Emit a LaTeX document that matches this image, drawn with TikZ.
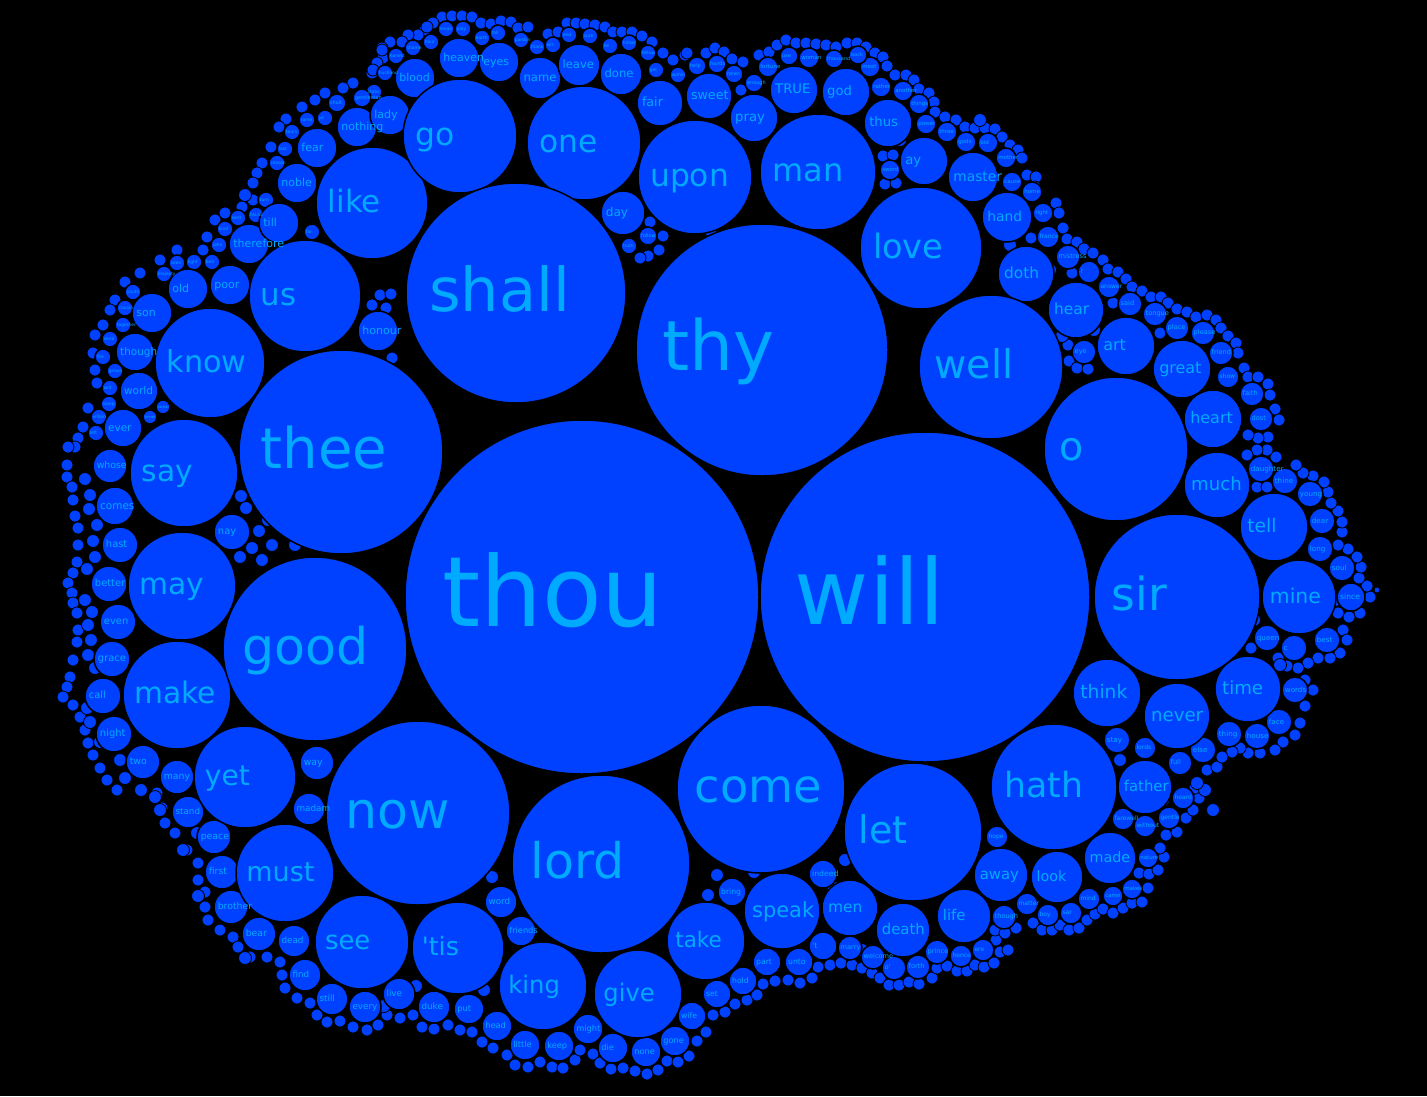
\documentclass[tikz,border=0pt]{standalone}
\usepackage{fontspec}
\newfontfamily\wf{DejaVu Sans}
\definecolor{bub}{RGB}{0,64,255}
\definecolor{wtxt}{RGB}{0,170,255}
\tikzset{
  bubble/.style={fill=bub,draw=black,line width=1.5pt},
  tinybub/.style={fill=bub,draw=black,line width=0.8pt}
}
\newcommand\bubcirc[3]{\path[bubble] (#1,#2) circle (#3);}
\newcommand\bublabel[4]{%
  \pgfmathsetmacro\mybfs{0.55*#3}%
  \node[anchor=base west,inner sep=0,text=wtxt,font=\wf\fontsize{\mybfs pt}{\mybfs pt}\selectfont] at ({#1-0.79*#3},{#2+0.165*#3}) {#4};}
\def\smalllist{%
1004/917/12/though,1027/904/11/matter,1048/915/11/boy,1071/913/11/sar,1089/899/11/mind,1113/896/10/came,1132/889/10/makes,1148/858/10/nature,997/837/11/hope,
1117/740/13/stay,1145/748/11/lords,1180/763/12/full,1203/750/13/else,1183/798/11/heard,1169/818/11/gentle,1123/819/11/farewell,1145/826/11/without,
1229/734/13/thing,1257/736/13/house,1279/722/13/face,1295/690/13/words,1267/638/13/queen,1294/648/13/c,1327/640/13/best,1351/597/14/since,1342/568/13/soul,1320/549/13/long,1322/521/13/dear,1310/494/13/young,1285/481/13/thine,1261/469/13/daughter,
1261/419/12/dost,1252/394/12/faith,1228/377/11/show,1221/353/12/friend,1203/333/12/please,1177/328/12/place,1155/314/12/tongue,1130/304/12/said,1109/287/11/answer,1084/352/12/eye,1089/272/11/i',1068/257/12/mistress,1048/237/11/france,1043/213/10/right,
1032/192/10/home,1012/182/10/cause,1006/158/10/mother,988/143/10/bid,966/142/10/gods,947/132/10/three,926/124/10/power,919/104/10/things,903/91/10/another,881/87/10/rather,890/170/10/sword,870/67/10/meet,858/55/9/back,834/59/9/thousand,809/58/10/woman,789/56/9/use,768/67/10/fortune,754/83/9/enough,734/74/9/news,717/64/9/hands,697/66/9/help,
678/75/8/within,656/70/8/get,648/53/8/fellow,629/43/8/hither,610/46/8/lie,590/36/8/sure,569/35/8/end,553/45/8/wit,537/47/8/thank,521/40/8/pardon,498/33/8/fall,482/38/8/earth,463/29/8/play,446/29/8/mean,431/42/8/hour,413/48/8/shame,396/56/8/honest,385/73/8/husband,374/92/8/state,362/98/9/gentleman,337/103/9/shalt,325/118/8/ye,307/120/8/rome,292/132/8/tears,285/149/8/lost,277/163/8/reason,266/200/8/turn,256/215/8/FALSE,238/218/8/sent,225/229/8/kind,219/245/8/john,312/232/8/far,
177/263/8/seen,194/262/8/light,212/262/8/bed,164/274/8/majesty,133/292/8/youth,125/308/8/cousin,123/325/8/together,110/339/8/send,103/357/8/fire,115/371/8/grown,110/388/8/wilt,109/404/8/sleep,99/417/8/villain,96/433/8/left,150/417/7/break,163/407/7/swear,
648/236/9/follow,629/246/8/truth,
732/892/14/bring,823/874/14/indeed,767/962/14/part,799/962/14/unto,823/946/14/'t,850/948/12/marry,873/957/12/welcome,894/968/12/o',918/967/12/forth,937/952/12/prince,961/956/11/hence,983/950/11/ere,
743/981/14/hold,717/994/14/set,692/1016/14/wife,675/1041/15/gone,646/1052/15/none,613/1048/15/die,588/1029/15/might,559/1046/15/keep,525/1045/15/little,497/1026/15/head,469/1009/15/put,434/1007/16/duke,399/994/16/live,365/1007/16/every,332/999/16/still,305/975/16/find,294/941/16/dead,259/934/17/bear,231/907/17/brother,222/872/17/first,214/837/17/peace,188/812/16/stand,177/777/17/many,143/762/17/two,
114/734/18/night,103/696/18/call,112/659/18/grace,118/622/18/even,109/584/18/better,120/545/18/hast,115/506/19/comes,110/466/17/whose,123/428/19/ever,139/391/19/world,135/352/19/though,152/313/20/son,188/289/20/old,230/285/20/poor,
249/244/20/therefore,279/223/20/till,297/183/20/noble,317/148/20/fear,357/127/20/nothing,390/115/20/lady,415/78/20/blood,459/58/20/heaven,499/62/20/eyes,540/78/21/name,579/65/21/leave,621/74/21/done,660/103/23/fair,709/96/23/sweet,754/118/24/pray,794/90/24/TRUE,846/92/24/god,888/123/24/thus,924/161/24/ay,973/177/25/master,1007/217/25/hand,
232/532/18/nay,317/763/17/way,309/809/16/madam,501/902/16/word,521/931/15/friends,623/213/22/day,378/331/20/honour,
1026/274/28/doth,1076/310/28/hear,1126/346/29/art,1182/369/29/great,1213/419/29/heart,1217/485/33/much,1274/527/34/tell,1299/597/37/mine,1248/689/33/time,1107/693/34/think,1177/716/33/never,1145/787/27/father,1110/858/26/made,1057/877/26/look,1001/875/27/away,964/916/27/life,903/930/27/death,850/908/28/men}
\def\biglist{%
782/911/38/speak,706/941/39/take,638/994/44/give,543/986/44/king,458/948/46/'tis,362/942/47/see,285/873/49/must,245/777/51/yet,
177/695/54/make,182/586/54/may,184/473/54/say,210/363/55/know,305/296/56/us,372/203/56/like,460/136/57/go,584/143/57/one,695/177/57/upon,818/172/58/man,921/248/61/love,991/367/72/well,1116/449/72/o,1177/597/83/sir,1054/787/63/hath,913/832/69/let,761/789/84/come,601/864/89/lord,418/813/92/now,315/649/92/good,341/452/102/thee,516/293/110/shall,762/350/126/thy,925/597/165/will,582/597/177/thou}
\begin{document}
\begin{tikzpicture}[x=1pt,y=-1pt]
\useasboundingbox (0,0) rectangle (1427,1096);
\fill[black] (0,0) rectangle (1427,1096);
% fringe of tiny circles
\foreach \x/\y in {442/17,452/16,462/16,472/17,481/23,491/24,501/21,511/22,518/28,528/27,548/34,558/32,567/23,576/23,585/24,595/25,605/27,613/32,622/32,632/32,642/36,652/42,663/53,673/60,685/55,
433/23,425/30,418/35,408/35,402/42,390/42,382/48,383/58,377/63,372/73,
325/93,315/100,302/107,286/119,279/127,271/147,262/163,257/173,253/183,253/200,242/207,225/213,215/220,207/237,203/250,353/83,343/88,373/70,382/50,427/27,
177/250,160/260,140/273,125/282,115/300,110/310,103/325,95/335,93/353,95/370,97/383,88/408,83/427,78/438,75/447,
68/447,67/465,67/477,72/487,73/500,75/516,78/528,78/545,77/562,73/573,68/583,72/593,73/603,77/613,78/630,77/642,73/660,70/677,67/687,63/697,73/705,80/717,85/730,88/743,93/755,100/768,107/780,117/790,
157/793,162/808,165/823,175/833,187/850,198/863,198/880,205/892,205/907,208/920,220/930,233/937,238/947,250/957,267/957,280/962,282/975,285/988,297/998,310/1003,317/1015,327/1022,340/1021,353/1027,367/1030,378/1025,387/1015,400/1018,413/1015,422/1027,434/1029,448/1025,460/1030,472/1032,482/1042,493/1048,507/1055,515/1065,528/1067,540/1062,
552/1067,563/1068,575/1060,580/1050,593/1054,600/1063,611/1069,623/1068,635/1071,647/1074,658/1070,667/1061,678/1062,689/1056,697/1041,706/1032,713/1015,725/1012,735/1004,747/1000,757/995,763/984,775/981,788/980,800/983,812/978,818/967,830/965,841/963,852/965,862/968,872/973,880/978,889/985,899/985,909/982,919/984,932/978,937/968,947/966,957/971,967/971,975/965,984/967,994/963,1000/952,1008/950,
996/940,995/930,1005/933,1016/928,1033/923,1042/930,1052/930,1060/925,1069/930,1079/928,1087/920,1095/914,1103/909,1113/913,1123/908,1132/903,1142/902,1148/888,1139/873,1149/874,1158/870,1164/857,1160/848,1166/835,1177/832,1186/818,1193/810,1199/798,1195/788,1207/770,1217/767,
1305/680,1313/690,1305/706,1300/723,1295/735,1283/742,1275/750,1260/753,1248/753,1240/748,1232/752,1222/757,1343/630,1347/640,1340/653,1330/658,1318/658,1308/663,1298/668,1287/666,1278/658,1251/648,1360/613,1349/617,1338/613,1370/597,1367/586,1359/578,1361/567,1357/557,1348/549,1338/545,1342/532,1342/522,1338/511,1331/503,1328/492,1324/482,1313/476,1303/473,1296/465,1276/457,1267/450,1257/450,1247/455,1257/487,1267/487,
1056/203,1059/213,1063/228,1067/239,1077/242,1084/249,1093/253,1103/260,1108/269,1118/272,1126/279,1132/287,1142/291,1151/297,1161/297,1168/303,1177/309,1187/312,1196/317,1207/315,1216/320,1221/328,1228/336,1236/343,1238/353,1244/368,1248/377,1258/377,1268/384,1270/395,1275/409,1279/420,1268/437,1258/438,1248/435,1068/345,1069/361,1077/368,1088/369,1031/238,1072/273,1113/303,1160/333,
687/53,706/53,715/48,724/52,732/59,743/62,759/55,769/52,777/45,786/40,796/43,806/43,816/44,826/45,836/47,847/43,857/43,866/47,875/53,883/57,887/66,895/75,906/75,914/80,919/89,929/93,934/102,935/112,945/117,956/120,965/127,975/128,985/128,995/129,1002/137,1010/145,1018/150,1022/158,1027/175,1036/177,1035/187,883/156,893/155,885/184,896/183,741/90,
650/222,663/236,648/256,659/250,640/258,380/295,391/294,372/305,386/308,392/358}
  \path[tinybub] (\x,\y) circle (6);
\path[tinybub] (1377,590) circle (3);
% small unlabelled circles in gaps
\foreach \x/\y in {85/479,90/495,89/509,97/525,93/541,95/557,87/569,85/600,92/612,88/625,91/640,88/655,95/668,87/708,90/722,100/742,120/760,125/778,141/790,155/797,160/810,
241/496,246/508,259/531,252/548,240/557,268/520,272/545,262/560,
183/850,197/833,232/820,198/896,245/958,352/975,384/1006,416/986,450/985,484/990,492/877,770/855,754/872,717/875,708/895,834/888,845/860,862/950,
1120/760,1098/757,1205/790,1213/810,1197/783,1163/800,
1250/580,1254/620,1280/665,1335/600,1320/620,
1045/335,1062/336,1056/370,1094/330,1010/245,1050/270,
980/120,900/140,905/195,
300/265,245/195,260/275,145/447,160/440,290/580,295/545,
700/212,710/230}
  \path[tinybub] (\x,\y) circle (6.5);
% labelled circles: small then large, then all labels on top
\foreach \x/\y/\r/\t in \smalllist {\bubcirc{\x}{\y}{\r}}
\foreach \x/\y/\r/\t in \biglist {\bubcirc{\x}{\y}{\r}}
\foreach \x/\y/\r/\t in \smalllist {\bublabel{\x}{\y}{\r}{\t}}
\foreach \x/\y/\r/\t in \biglist {\bublabel{\x}{\y}{\r}{\t}}
\end{tikzpicture}
\end{document}
